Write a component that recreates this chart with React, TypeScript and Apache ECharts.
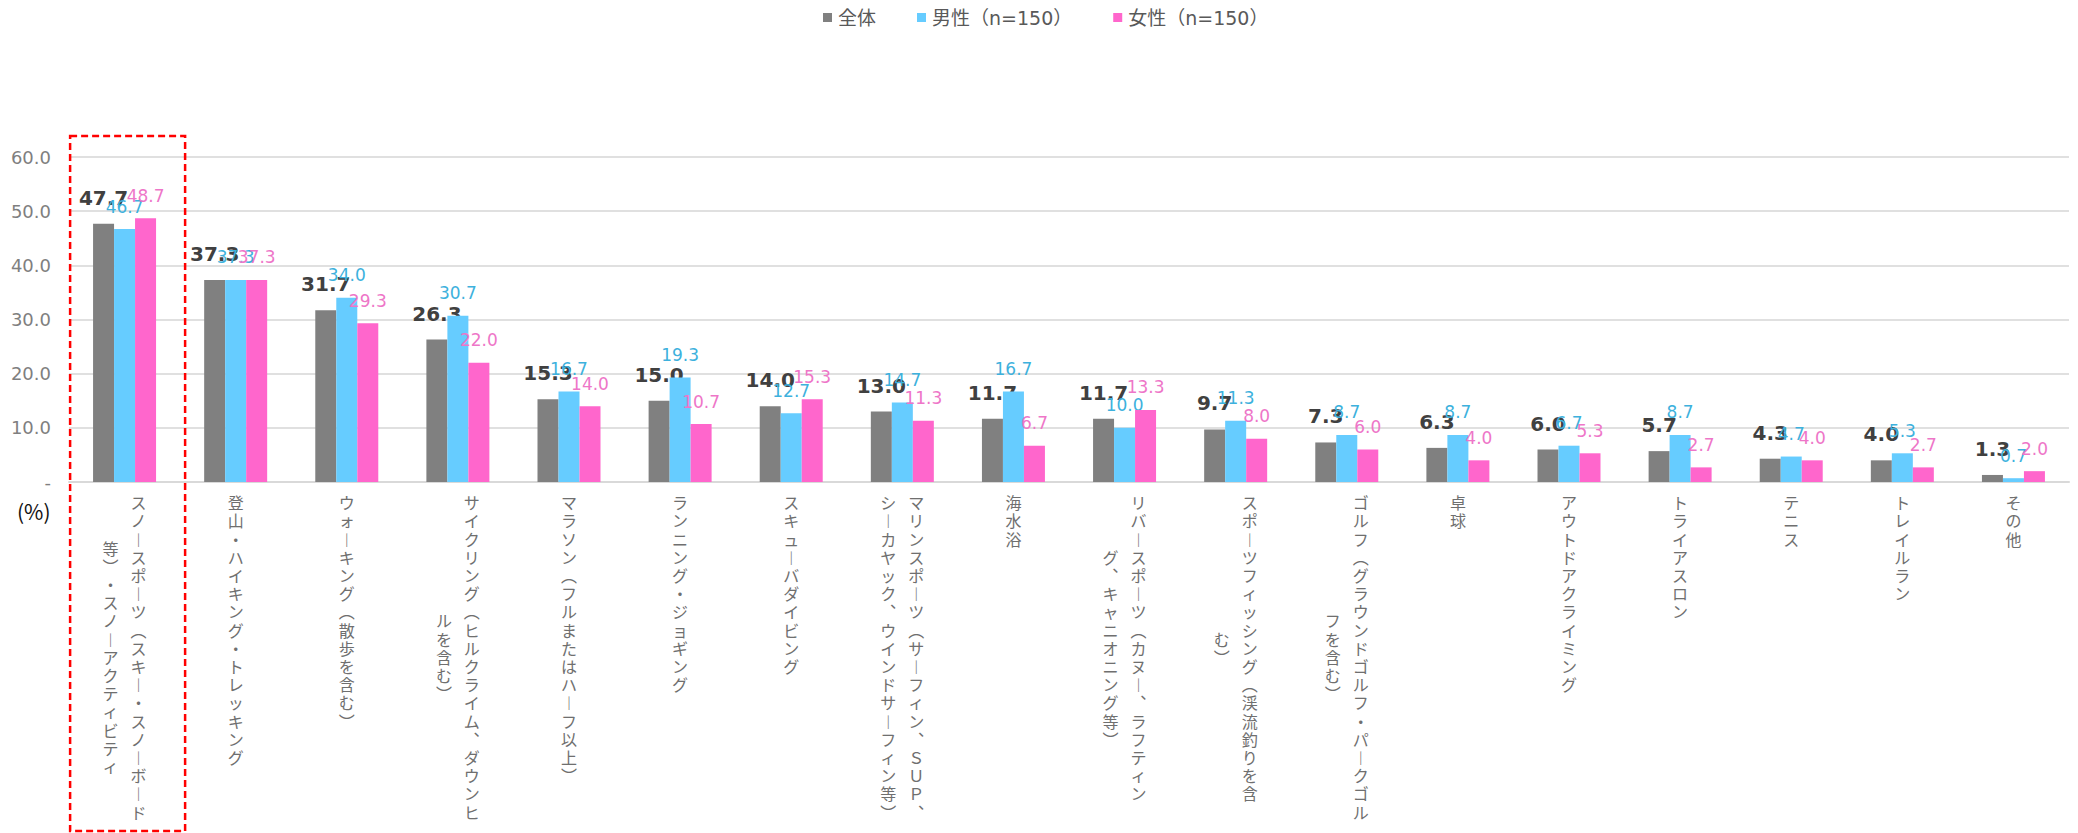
import React, { useEffect, useRef } from "react";
import * as echarts from "echarts";

// ---- data ----
const categories: string[] = [
  "スノースポーツ（スキー・スノーボード\n等）・スノーアクティビティ",
  "登山・ハイキング・トレッキング",
  "ウォーキング（散歩を含む）",
  "サイクリング（ヒルクライム、ダウンヒ\nルを含む）",
  "マラソン（フルまたはハーフ以上）",
  "ランニング・ジョギング",
  "スキューバダイビング",
  "マリンスポーツ（サーフィン、ＳＵＰ、\nシーカヤック、ウインドサーフィン等）",
  "海水浴",
  "リバースポーツ（カヌー、ラフティン\nグ、キャニオニング等）",
  "スポーツフィッシング（渓流釣りを含\nむ）",
  "ゴルフ（グラウンドゴルフ・パークゴル\nフを含む）",
  "卓球",
  "アウトドアクライミング",
  "トライアスロン",
  "テニス",
  "トレイルラン",
  "その他",
];

const seriesNames: string[] = ["全体", "男性（n=150）", "女性（n=150）"];

const totalValues: number[] = [47.7, 37.3, 31.7, 26.3, 15.3, 15.0, 14.0, 13.0, 11.7, 11.7, 9.7, 7.3, 6.3, 6.0, 5.7, 4.3, 4.0, 1.3];
const maleValues: number[] = [46.7, 37.3, 34.0, 30.7, 16.7, 19.3, 12.7, 14.7, 16.7, 10.0, 11.3, 8.7, 8.7, 6.7, 8.7, 4.7, 5.3, 0.7];
const femaleValues: number[] = [48.7, 37.3, 29.3, 22.0, 14.0, 10.7, 15.3, 11.3, 6.7, 13.3, 8.0, 6.0, 4.0, 5.3, 2.7, 4.0, 2.7, 2.0];

const yTicks: number[] = [0, 10, 20, 30, 40, 50, 60];

// ---- styling ----
const FONT = "'Noto Sans CJK JP', 'Noto Sans', sans-serif";
const NUM_FONT = "'DejaVu Sans', 'Noto Sans', sans-serif";
const LEGEND_FONT = "'DejaVu Sans', 'Noto Sans CJK JP', sans-serif";
const COLORS = ["#808080", "#66CCFF", "#FF66CC"];
const LABEL_COLORS = ["#404040", "#3DB1DD", "#EE76C8"];
const CAT_COLOR = "#6f6f6f";
const LH = 18.2; // vertical text pitch
const CAT_FONT = 16;
const COL_SHIFT = 28;

// vertical-writing forms
const VMAP: Record<string, string> = { "ー": "︱", "（": "︵", "）": "︶", "、": "︑" };
const toCols = (s: string): string[][] =>
  s.split("\n").map((col) => Array.from(col).map((c) => VMAP[c] ?? c));

const baseCatStyle = { fontSize: CAT_FONT, lineHeight: LH, color: CAT_COLOR, fontFamily: FONT };

export default function App() {
  const ref = useRef<HTMLDivElement>(null);

  useEffect(() => {
    if (!ref.current) return;
    const chart = echarts.init(ref.current, undefined, { renderer: "svg" });

    const rich0: any = {
      c: { ...baseCatStyle },
      r: { ...baseCatStyle, padding: [0, 0, 0, COL_SHIFT] },
    };
    const rich1: any = {
      l: { ...baseCatStyle, padding: [0, COL_SHIFT, 0, 0] },
    };
    categories.forEach((cat, i) => {
      const cols = toCols(cat);
      if (cols.length > 1) {
        const off = ((cols[0].length - cols[1].length) / 2) * LH;
        rich1["s" + i] = { fontSize: 1, lineHeight: off, height: off, color: "rgba(0,0,0,0)" };
      }
    });

    const mkLabel = (i: number) => ({
      show: true,
      position: "top",
      distance: i === 0 ? 16 : 14,
      color: LABEL_COLORS[i],
      fontSize: i === 0 ? 20 : 17,
      fontWeight: i === 0 ? "bold" : "normal",
      fontFamily: NUM_FONT,
      formatter: (p: any) => Number(p.value).toFixed(1),
    });

    const dataSets = [totalValues, maleValues, femaleValues];

    chart.setOption({
      animation: false,
      backgroundColor: "#ffffff",
      legend: {
        data: seriesNames,
        left: 823,
        top: 8,
        padding: 0,
        itemWidth: 9,
        itemHeight: 9,
        itemGap: 41,
        icon: "rect",
        textStyle: { fontSize: 19, color: "#595959", fontFamily: LEGEND_FONT, padding: [0, 0, 0, 1] },
      },
      grid: { left: 69, right: 9, top: 157, bottom: 351, containLabel: false },
      xAxis: [
        {
          type: "category",
          data: categories,
          position: "bottom",
          axisLine: { show: true, lineStyle: { color: "#d9d9d9", width: 2 } },
          axisTick: { show: false },
          axisLabel: {
            interval: 0,
            margin: 11,
            formatter: (v: string) => {
              const cols = toCols(v);
              const tag = cols.length > 1 ? "r" : "c";
              return cols[0].map((ch) => `{${tag}|${ch}}`).join("\n");
            },
            rich: rich0,
          },
        },
        {
          type: "category",
          data: categories,
          position: "bottom",
          axisLine: { show: false },
          axisTick: { show: false },
          splitLine: { show: false },
          axisLabel: {
            interval: 0,
            margin: 11,
            formatter: (v: string, idx: number) => {
              const cols = toCols(v);
              if (cols.length < 2) return "";
              const lines = cols[1].map((ch) => `{l|${ch}}`);
              if (cols[0].length > cols[1].length) lines.unshift(`{s${idx}|\u3000}`);
              return lines.join("\n");
            },
            rich: rich1,
          },
        },
      ],
      yAxis: {
        type: "value",
        min: yTicks[0],
        max: yTicks[yTicks.length - 1],
        interval: yTicks[1] - yTicks[0],
        axisLine: { show: false },
        axisTick: { show: false },
        splitLine: { show: true, lineStyle: { color: "#e0e0e0", width: 2 } },
        axisLabel: {
          margin: 18,
          fontSize: 18,
          color: "#7f7f7f",
          fontFamily: NUM_FONT,
          formatter: (v: number) => (v === 0 ? "-" : v.toFixed(1)),
        },
      },
      series: dataSets.map((vals, i) => ({
        name: seriesNames[i],
        type: "bar",
        data: vals,
        barWidth: 21,
        barGap: "0%",
        itemStyle: { color: COLORS[i] },
        label: mkLabel(i),
        z: 2 + i,
      })),
    });

    // annotations positioned from the axes
    const c0 = chart.convertToPixel({ xAxisIndex: 0 }, categories[0]) as number;
    const c1 = chart.convertToPixel({ xAxisIndex: 0 }, categories[1]) as number;
    const band = c1 - c0;
    const yTop = chart.convertToPixel({ yAxisIndex: 0 }, yTicks[yTicks.length - 1]) as number;
    const y0 = chart.convertToPixel({ yAxisIndex: 0 }, 0) as number;
    const H = chart.getHeight();

    chart.setOption({
      graphic: [
        {
          type: "rect",
          shape: { x: c0 - band * 0.49, y: yTop - 21, width: band * 1.035, height: H - 2 - (yTop - 21) },
          style: { fill: "none", stroke: "#ff0000", lineWidth: 2.5, lineDash: [7, 4] },
          z: 100,
          silent: true,
        },
        {
          type: "text",
          left: 17,
          top: y0 + 18,
          style: { text: "(%)", fontSize: 21, fill: "#111111", fontFamily: FONT },
          z: 100,
        },
      ],
    });

    return () => chart.dispose();
  }, []);

  return (
    <div
      ref={ref}
      style={{ position: "absolute", left: 0, top: 0, width: 2078, height: 833, background: "#fff" }}
    />
  );
}
